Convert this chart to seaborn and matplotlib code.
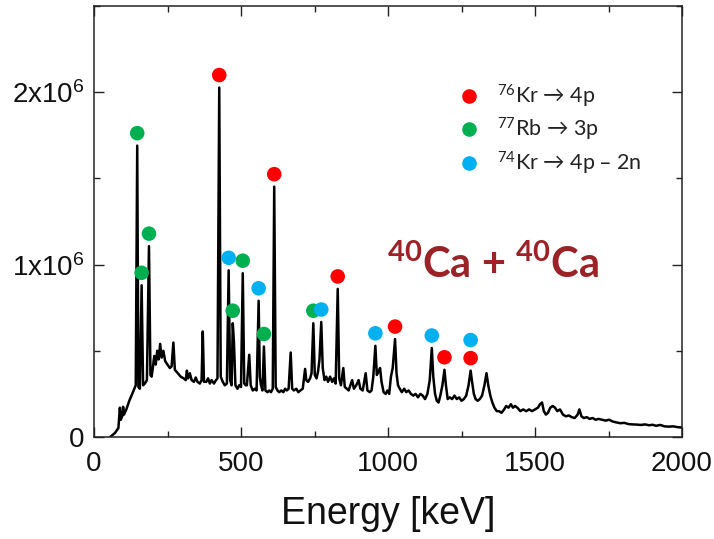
import numpy as np
import pandas as pd
import matplotlib
matplotlib.use("Agg")
import matplotlib.pyplot as plt
import matplotlib.transforms as mtransforms
from matplotlib.lines import Line2D
from matplotlib.ticker import MultipleLocator
import seaborn as sns

# ---- gamma-ray spectrum (energy in keV, counts) ----
energy_keV = [
    55, 71, 83, 88, 91, 96, 99, 102, 110, 120, 130, 137, 142, 147, 151, 156, 162, 167,
    173, 180, 187, 192, 196, 200, 205, 210, 215, 220, 225, 230, 236, 242, 250, 258,
    264, 270, 275, 285, 295, 305, 312, 316, 320, 326, 332, 340, 346, 352, 360, 366,
    370, 374, 382, 388, 394, 400, 408, 415, 420, 426, 431, 438, 445, 452, 458, 463,
    468, 472, 476, 481, 488, 494, 500, 506, 511, 516, 520, 528, 533, 540, 547, 553,
    560, 564, 568, 573, 578, 583, 590, 596, 602, 608, 613, 618, 624, 630, 637, 644,
    650, 656, 662, 669, 674, 680, 688, 695, 702, 710, 718, 722, 728, 735, 740, 746,
    751, 757, 762, 767, 773, 778, 784, 790, 796, 803, 810, 816, 822, 829, 834, 840,
    848, 853, 860, 866, 872, 878, 884, 892, 900, 906, 914, 924, 930, 938, 944, 950,
    957, 962, 968, 973, 978, 985, 992, 998, 1004, 1010, 1016, 1024, 1029, 1034, 1040,
    1047, 1055, 1062, 1070, 1078, 1086, 1094, 1102, 1110, 1118, 1126, 1134, 1142, 1149,
    1154, 1160, 1166, 1172, 1178, 1185, 1192, 1197, 1203, 1210, 1218, 1226, 1234, 1242,
    1250, 1258, 1266, 1274, 1281, 1286, 1292, 1298, 1305, 1312, 1320, 1328, 1335, 1341,
    1348, 1355, 1362, 1370, 1378, 1386, 1395, 1402, 1410, 1418, 1425, 1432, 1440, 1450,
    1460, 1470, 1480, 1490, 1500, 1510, 1517, 1524, 1530, 1537, 1544, 1552, 1560, 1568,
    1576, 1585, 1595, 1605, 1615, 1625, 1635, 1645, 1651, 1658, 1666, 1676, 1686, 1696,
    1706, 1716, 1728, 1740, 1752, 1764, 1776, 1790, 1804, 1818, 1832, 1846, 1860, 1874,
    1888, 1900, 1912, 1926, 1940, 1955, 1970, 1985, 2000,
]
counts = [
    0, 23e3, 52e3, 170e3, 100e3, 120e3, 175e3, 130e3, 160e3, 210e3, 250e3, 280e3, 300e3, 1690e3, 290e3, 280e3, 880e3, 300e3,
    310e3, 330e3, 1107e3, 360e3, 350e3, 400e3, 470e3, 420e3, 500e3, 450e3, 540e3, 460e3, 500e3, 440e3, 420e3, 400e3,
    410e3, 548e3, 390e3, 370e3, 350e3, 340e3, 330e3, 385e3, 340e3, 370e3, 330e3, 320e3, 345e3, 320e3, 310e3, 330e3,
    612e3, 320e3, 320e3, 340e3, 310e3, 330e3, 310e3, 330e3, 340e3, 2027e3, 350e3, 320e3, 300e3, 310e3, 967e3, 330e3,
    300e3, 660e3, 550e3, 300e3, 280e3, 300e3, 290e3, 950e3, 310e3, 300e3, 300e3, 477e3, 300e3, 270e3, 280e3, 270e3,
    790e3, 350e3, 300e3, 270e3, 525e3, 270e3, 260e3, 270e3, 260e3, 280e3, 1452e3, 290e3, 270e3, 260e3, 270e3, 260e3,
    280e3, 270e3, 280e3, 490e3, 280e3, 270e3, 280e3, 260e3, 270e3, 280e3, 395e3, 330e3, 320e3, 340e3, 370e3, 660e3,
    360e3, 340e3, 380e3, 450e3, 667e3, 400e3, 330e3, 350e3, 320e3, 350e3, 320e3, 340e3, 310e3, 859e3, 340e3, 300e3,
    400e3, 290e3, 280e3, 270e3, 300e3, 330e3, 280e3, 300e3, 330e3, 280e3, 270e3, 370e3, 270e3, 260e3, 270e3, 350e3,
    529e3, 360e3, 380e3, 400e3, 320e3, 260e3, 250e3, 270e3, 250e3, 350e3, 400e3, 568e3, 370e3, 300e3, 280e3,
    260e3, 280e3, 260e3, 270e3, 250e3, 240e3, 250e3, 230e3, 250e3, 240e3, 220e3, 250e3, 330e3, 516e3,
    350e3, 250e3, 210e3, 200e3, 240e3, 300e3, 390e3, 300e3, 220e3, 230e3, 220e3, 240e3, 220e3, 230e3,
    210e3, 220e3, 240e3, 300e3, 385e3, 320e3, 250e3, 220e3, 210e3, 220e3, 240e3, 300e3, 370e3, 300e3,
    240e3, 200e3, 170e3, 150e3, 150e3, 140e3, 160e3, 180e3, 170e3, 190e3, 170e3, 180e3, 170e3, 150e3,
    160e3, 150e3, 160e3, 150e3, 160e3, 170e3, 190e3, 200e3, 150e3, 130e3, 140e3, 170e3, 180e3, 170e3,
    150e3, 160e3, 130e3, 120e3, 125e3, 115e3, 110e3, 130e3, 160e3, 120e3, 110e3, 115e3, 105e3, 110e3,
    100e3, 105e3, 100e3, 95e3, 100e3, 90e3, 85e3, 80e3, 82e3, 75e3, 73e3, 72e3, 70e3, 73e3,
    68e3, 71e3, 65e3, 70e3, 62e3, 60e3, 62e3, 57e3, 55e3,
]

# ---- identified transitions (peak energy, peak counts, channel, stacking level) ----
line_energy = [426, 613, 829, 1024, 1192, 1281,
               147, 162, 187, 472, 506, 578, 746,
               458, 560, 773, 957, 1149, 1281]
line_counts = [2027e3, 1452e3, 859e3, 568e3, 390e3, 385e3,
               1690e3, 880e3, 1107e3, 660e3, 950e3, 525e3, 660e3,
               967e3, 790e3, 667e3, 529e3, 516e3, 385e3]
line_channel = ["Kr76"] * 6 + ["Rb77"] * 7 + ["Kr74"] * 6
line_level = [1] * 18 + [2]

channels = ["Kr76", "Rb77", "Kr74"]
channel_labels = [r"$^{76}$Kr → 4p", r"$^{77}$Rb → 3p", r"$^{74}$Kr → 4p – 2n"]
channel_colors = ["#ff0000", "#00b050", "#00b0f0"]

x_ticks = [0, 500, 1000, 1500, 2000]
y_ticks = [0, 1e6, 2e6]
y_tick_labels = ["0", r"1x10$^6$", r"2x10$^6$"]

# ---- style ----
sns.set_theme(style="ticks")
plt.rcParams["font.family"] = ["Liberation Sans", "DejaVu Sans"]
plt.rcParams["mathtext.default"] = "regular"

spec = pd.DataFrame({"energy": energy_keV, "counts": counts})
lines = pd.DataFrame({"energy": line_energy, "counts": line_counts,
                      "channel": line_channel, "level": line_level})

fig = plt.figure(figsize=(7.14, 5.39), dpi=100)
ax = fig.add_axes([94 / 714, 1 - 437 / 539, 588 / 714, 431 / 539])

sns.lineplot(data=spec, x="energy", y="counts", estimator=None, sort=False,
             color="black", linewidth=1.8, ax=ax)

palette = dict(zip(channels, channel_colors))
for level in (1, 2):
    sub = lines[lines["level"] == level]
    shift = mtransforms.offset_copy(ax.transData, fig=fig, x=0,
                                    y=9 + 13 * (level - 1), units="points")
    sns.scatterplot(data=sub, x="energy", y="counts", hue="channel",
                    palette=palette, s=110, edgecolor="none", legend=False,
                    transform=shift, ax=ax, zorder=3, clip_on=False)

ax.set_xlim(0, 2000)
ax.set_ylim(0, 2.5e6)
ax.set_xticks(x_ticks)
ax.set_xticklabels([str(t) for t in x_ticks])
ax.xaxis.set_minor_locator(MultipleLocator(250))
ax.set_yticks(y_ticks)
ax.set_yticklabels(y_tick_labels)
ax.yaxis.set_minor_locator(MultipleLocator(5e5))

ax.tick_params(which="both", direction="in", top=True, right=True,
               width=1.0, colors="#222222", labelcolor="#111111",
               labelsize=20)
ax.tick_params(axis="x", which="both", pad=10)
ax.tick_params(axis="y", which="both", pad=7)
ax.tick_params(which="major", length=7)
ax.tick_params(which="minor", length=4)
for sp in ax.spines.values():
    sp.set_linewidth(1.1)
    sp.set_color("#222222")
    sp.set_visible(True)

ax.set_ylabel("")
ax.set_xlabel("Energy [keV]", fontsize=27, color="#111111", labelpad=14)

handles = [Line2D([], [], ls="", marker="o", markersize=10.5,
                  markerfacecolor=c, markeredgecolor="none") for c in channel_colors]
leg = ax.legend(handles, channel_labels, loc="upper left",
                bbox_to_anchor=(458 / 714, 1 - 83 / 539),
                bbox_transform=fig.transFigure, frameon=False,
                prop={"family": ["Lato", "DejaVu Sans"], "size": 15.5},
                handlelength=1.0, handletextpad=0.8, labelspacing=0.28,
                borderpad=0, borderaxespad=0)
for t in leg.get_texts():
    t.set_color("#222222")

fig.text(493 / 714, 1 - 278 / 539, r"$^{40}$Ca + $^{40}$Ca", ha="center",
         va="baseline", fontsize=30, fontweight="bold", color="#9b2226",
         family=["Lato", "DejaVu Sans"])

fig.savefig("out.png", dpi=100, facecolor="white")
